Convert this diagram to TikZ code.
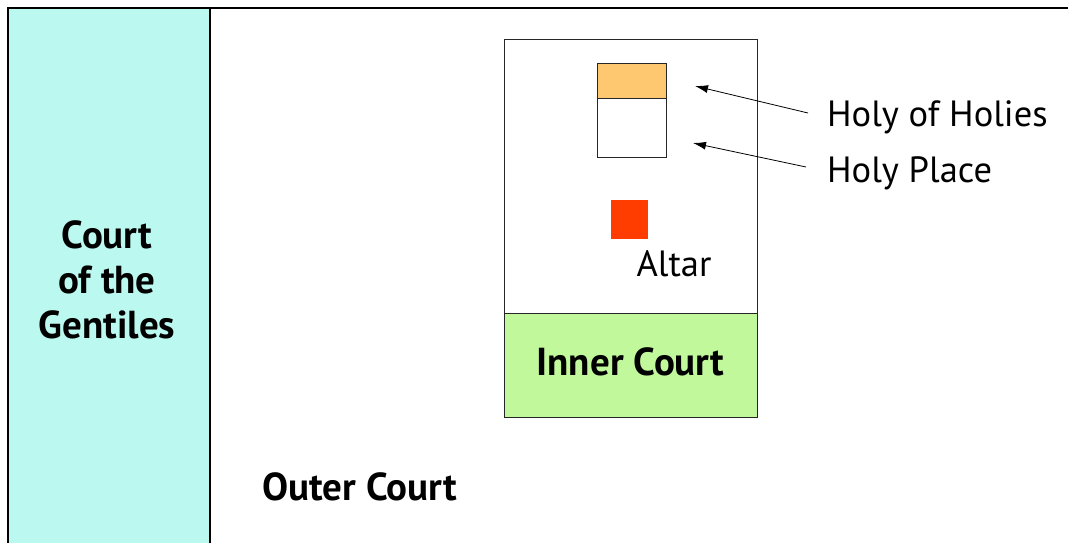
\documentclass[tikz,border=0pt]{standalone}
\usepackage{fontspec}
\setmainfont{PT Sans}
\usetikzlibrary{arrows.meta}
\definecolor{gentile}{HTML}{BBF8EF}
\definecolor{innerg}{HTML}{C2F89C}
\definecolor{holiest}{HTML}{FDC870}
\definecolor{altarred}{HTML}{FF3D00}
\begin{document}
\begin{tikzpicture}[x=1pt,y=-1pt,
  wall/.style={draw=black,line width=1.5pt},
  thin/.style={draw=black!85,line width=0.9pt},
  lbl/.style={font=\fontsize{36.5}{40}\selectfont,inner sep=0pt},
  blbl/.style={font=\fontsize{39}{45}\selectfont\bfseries,inner sep=0pt,align=center},
  pointer/.style={-{Latex[length=13pt,width=8pt]},line width=0.8pt}]
\useasboundingbox (0,0) rectangle (1068,543);
\fill[white] (0,0) rectangle (1068,543);
% court of the gentiles
\fill[gentile] (8,8) rectangle (210,543);
\draw[wall] (8,543) -- (8,8) -- (1068,8);
\draw[wall] (210,8) -- (210,543);
\node[blbl] (gent) at (107,280) {Court\\of the\\Gentiles};
% inner block
\draw[thin,fill=white] (504,39) rectangle (757,313);
\draw[thin,fill=innerg] (504,313) rectangle (757,417);
\node[blbl] (inner) at (630.5,362) {Inner Court};
% holy of holies / holy place
\draw[thin,fill=holiest] (597,63) rectangle (666,98);
\draw[thin,fill=white] (597,98) rectangle (666,157);
\coordinate (hoh) at (695,86);
\coordinate (hp) at (693,143);
% altar
\fill[altarred] (611,200) rectangle (648,239);
\node[lbl] (altar) at (674,264) {Altar};
% labels
\node[lbl,anchor=west] (lhoh) at (827,117) {Holy of Holies};
\node[lbl,anchor=west] (lhp) at (827,173) {Holy Place};
\coordinate (shoh) at (808,113);
\coordinate (shp) at (806,167);
\draw[pointer] (shoh) -- (hoh);
\draw[pointer] (shp) -- (hp);
\node[blbl,anchor=west] (outer) at (262,487) {Outer Court};
\end{tikzpicture}
\end{document}
